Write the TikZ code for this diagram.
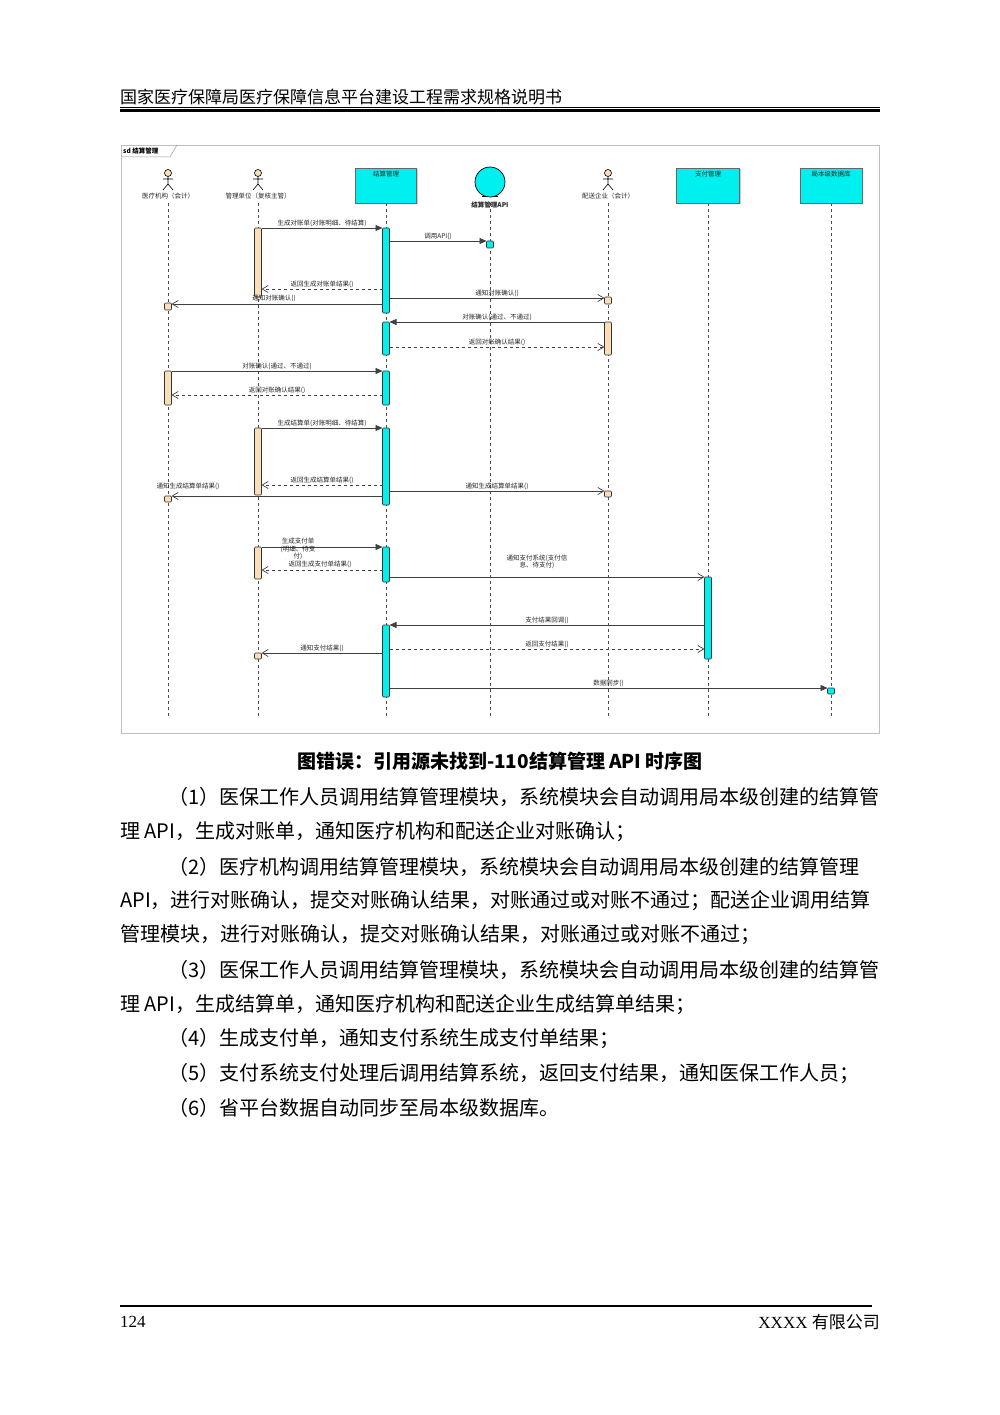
\documentclass[tikz,border=0pt]{standalone}
\usepackage{fontspec}
\setmainfont{Liberation Serif}
\newfontfamily\cjk{Noto Sans CJK SC}
\usetikzlibrary{arrows.meta,shadows}
\definecolor{cy}{RGB}{0,240,240}
\definecolor{tan}{RGB}{250,222,185}
\tikzset{
 act/.style={draw=black!80,line width=0.6pt,rounded corners=1pt},
 msg/.style={draw=black!75,line width=0.7pt},
 filled/.style={msg,-{Triangle[length=7pt,width=6pt]}},
 open/.style={msg,-{Straight Barb[length=6pt,width=7pt]}},
 ret/.style={msg,dashed,-{Straight Barb[length=6pt,width=7pt]}},
 lab/.style={font=\cjk\fontsize{6.5}{7.5}\selectfont,inner sep=1pt,text=black!85},
 life/.style={draw=black!70,dashed,line width=0.6pt},
 body/.style={font=\cjk\fontsize{20}{21}\selectfont,anchor=west,inner sep=0pt},
 hdr/.style={draw=black!60,fill=cy,line width=0.7pt,drop shadow={shadow xshift=1pt,shadow yshift=-1pt,opacity=.4}}
}
\newcommand{\actorfig}[2]{%
 \fill[tan] (#1,#2) circle (3.5);\draw[line width=.6pt] (#1,#2) circle (3.5);
 \draw[line width=.6pt] (#1,#2+3.5)--(#1,#2+11) (#1-5,#2+6)--(#1+5,#2+6) (#1-5,#2+17)--(#1,#2+11)--(#1+5,#2+17);}
\begin{document}
\begin{tikzpicture}[x=1pt,y=-1pt]
\useasboundingbox (0,0) rectangle (1000,1415);
% header
\node[anchor=west,font=\cjk\fontsize{17}{18}\selectfont,inner sep=0] (h) at (120,97) {国家医疗保障局医疗保障信息平台建设工程需求规格说明书};
\draw[line width=0.8pt] (120,107)--(880,107);
\draw[line width=2.6pt] (120,110.5)--(880,110.5);
% frame
\draw[draw=black!25,line width=0.8pt] (121,145) rectangle (879,733);
\draw[draw=black!40,line width=.5pt] (121,157)--(170,157)--(177,145);
\node[anchor=west,font=\cjk\bfseries\fontsize{6.5}{7}\selectfont,inner sep=0] (sd) at (123,151) {sd 结算管理};
% lifelines
\foreach \x in {168,258,386,490,608,708,831} {\draw[life] (\x,203)--(\x,718);}
\actorfig{168}{173}\actorfig{258}{173}\actorfig{608}{173}
\node[lab] (la) at (168,196) {医疗机构（会计）};
\node[lab] (lb) at (258,196) {管理单位（复核主管）};
\node[lab] (le) at (608,196) {配送企业（会计）};
\foreach \x/\w/\t in {386/61/结算管理,708/63/支付管理,831/62/局本级数据库}{
 \draw[hdr] (\x-\w/2,168) rectangle (\x+\w/2,203);
 \node[lab,anchor=north] at (\x,170) {\t};}
\draw[line width=.7pt] (482,196)--(498,196);
\draw[fill=cy,line width=.7pt] (490,182) circle (15);
\node[lab,font=\cjk\bfseries\fontsize{6.5}{7}\selectfont] (ld) at (490,205) {结算管理API};
% activations
\foreach \x/\a/\b/\c in {258/228/297/tan,386/228/313/cy,490/241/248/cy,168/303/310/tan,608/297/304/tan,
 386/322/355/cy,608/322/355/tan,168/371/405/tan,386/371/405/cy,258/428/495/tan,386/428/505/cy,
 168/496/502/tan,608/491/497/tan,258/547/579/tan,386/547/582/cy,708/577/659/cy,386/625/697/cy,258/653/659/tan,831/688/694/cy}
 {\draw[act,fill=\c] (\x-3.5,\a) rectangle (\x+3.5,\b);}
% messages
\draw[filled] (261.5,228)--node[lab,above]{生成对账单(对账明细、待结算)}(382.5,228);
\draw[filled] (389.5,241)--node[lab,above]{调用API()}(486.5,241);
\draw[ret] (382.5,289)--node[lab,above]{返回生成对账单结果()}(261.5,289);
\draw[open] (389.5,298)--node[lab,above]{通知对账确认()}(604.5,298);
\draw[open] (382.5,304)--(171.5,304);
\node[lab] at (274,298) {通知对账确认()};
\draw[filled] (604.5,322)--node[lab,above]{对账确认(通过、不通过)}(389.5,322);
\draw[ret] (389.5,347)--node[lab,above]{返回对账确认结果()}(604.5,347);
\draw[filled] (171.5,371)--node[lab,above]{对账确认(通过、不通过)}(382.5,371);
\draw[ret] (382.5,395)--node[lab,above]{返回对账确认结果()}(171.5,395);
\draw[filled] (261.5,428)--node[lab,above]{生成结算单(对账明细、待结算)}(382.5,428);
\draw[ret] (382.5,485)--node[lab,above]{返回生成结算单结果()}(261.5,485);
\draw[open] (382.5,496)--(171.5,496);
\node[lab] at (188,486) {通知生成结算单结果()};
\draw[open] (389.5,491)--node[lab,above]{通知生成结算单结果()}(604.5,491);
\draw[filled] (261.5,547)--(382.5,547);
\node[lab,align=center] at (298,549) {生成支付单\\(明细、待支\\付)};
\draw[ret] (382.5,570)--(261.5,570);
\node[lab] at (320,564) {返回生成支付单结果()};
\draw[open] (389.5,577)--(704.5,577);
\node[lab,align=center] at (537,562) {通知支付系统(支付信\\息、待支付)};
\draw[filled] (704.5,625)--node[lab,above]{支付结果回调()}(389.5,625);
\draw[ret] (389.5,649)--node[lab,above]{返回支付结果()}(704.5,649);
\draw[open] (382.5,653)--node[lab,above]{通知支付结果()}(261.5,653);
\draw[filled] (389.5,688)--node[lab,above]{数据同步()}(827.5,688);
% caption
\node[font=\cjk\bfseries\fontsize{19}{20}\selectfont] (cap) at (500,761) {图错误：引用源未找到-110结算管理 API 时序图};
% body
\node[body] at (168,797) {（1）医保工作人员调用结算管理模块，系统模块会自动调用局本级创建的结算管};
\node[body] at (120,832) {理 API，生成对账单，通知医疗机构和配送企业对账确认；};
\node[body] at (168,867) {（2）医疗机构调用结算管理模块，系统模块会自动调用局本级创建的结算管理};
\node[body] at (120,901) {API，进行对账确认，提交对账确认结果，对账通过或对账不通过；配送企业调用结算};
\node[body] at (120,935) {管理模块，进行对账确认，提交对账确认结果，对账通过或对账不通过；};
\node[body] at (168,970) {（3）医保工作人员调用结算管理模块，系统模块会自动调用局本级创建的结算管};
\node[body] at (120,1005) {理 API，生成结算单，通知医疗机构和配送企业生成结算单结果；};
\node[body] at (168,1039) {（4）生成支付单，通知支付系统生成支付单结果；};
\node[body] at (168,1074) {（5）支付系统支付处理后调用结算系统，返回支付结果，通知医保工作人员；};
\node[body] at (168,1108) {（6）省平台数据自动同步至局本级数据库。};
% footer
\draw[line width=2.6pt] (120,1306)--(872,1306);
\node[anchor=west,font=\fontsize{17}{18}\selectfont,inner sep=0] (pg) at (120,1322) {124};
\node[anchor=east,font=\fontsize{17}{18}\selectfont,inner sep=0] (co) at (880,1322) {XXXX {\cjk 有限公司}};
\end{tikzpicture}
\end{document}
